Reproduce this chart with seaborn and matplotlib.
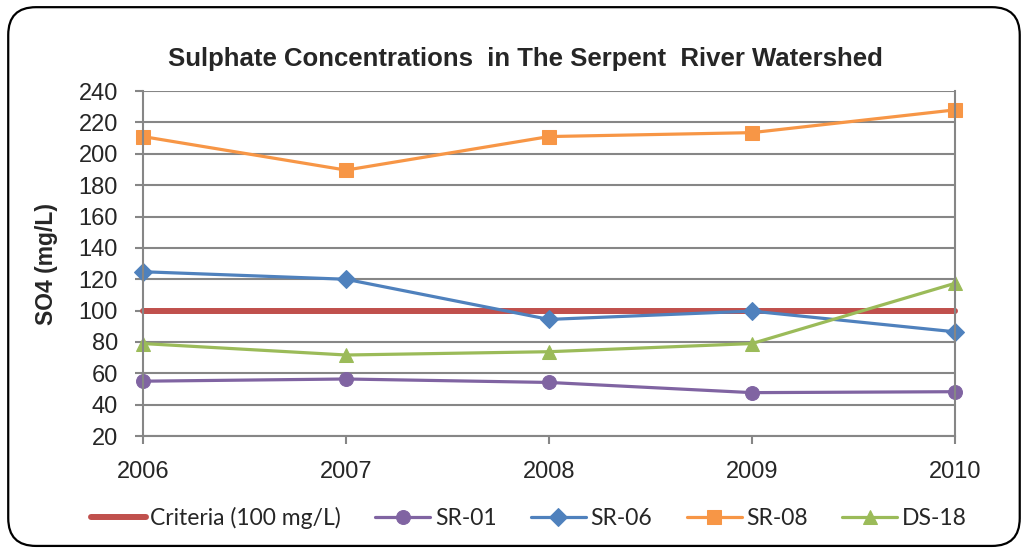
import numpy as np
import pandas as pd
import matplotlib
matplotlib.use("Agg")
import matplotlib.pyplot as plt
import seaborn as sns
from matplotlib.patches import FancyBboxPatch

years = [2006, 2007, 2008, 2009, 2010]
criteria = [100, 100, 100, 100, 100]
sr01 = [55, 56.4, 54.2, 47.7, 48.3]
sr06 = [124.8, 120, 94.4, 99.7, 86.5]
sr08 = [211, 189.6, 211, 213.5, 228]
ds18 = [79, 71.7, 73.8, 79, 117.4]

series_names = ["Criteria (100 mg/L)", "SR-01", "SR-06", "SR-08", "DS-18"]
series_vals = [criteria, sr01, sr06, sr08, ds18]
colors = ["#C0504D", "#8064A2", "#4F81BD", "#F79646", "#9BBB59"]
markers = [None, "o", "D", "s", "^"]
msizes = [0, 10, 9, 10, 10.5]
widths = [4.3, 2.3, 2.3, 2.3, 2.3]

sns.set_style("white")
plt.rcParams["font.family"] = ["Liberation Sans", "DejaVu Sans"]

fig = plt.figure(figsize=(10.29, 5.52), dpi=100)
ax = fig.add_axes([0.139, 0.21, 0.789, 0.625])

# rounded chart border
border = FancyBboxPatch((0.008, 0.011), 0.983, 0.976,
                        boxstyle="round,pad=0,rounding_size=0.027",
                        transform=fig.transFigure, fill=False,
                        edgecolor="black", linewidth=1.6, mutation_aspect=1.86)
fig.patches.append(border)

for name, vals, c, m, ms, lw in zip(series_names, series_vals, colors, markers, msizes, widths):
    df = pd.DataFrame({"year": years, "value": vals})
    sns.lineplot(data=df, x="year", y="value", ax=ax, color=c, linewidth=lw,
                 marker=m, markersize=ms, markeredgecolor=c, label=name)
for ln in ax.lines:
    ln.set_clip_on(False)

ax.set_xlim(2006, 2010)
ax.set_ylim(20, 240)
ax.set_xticks(years)
ax.set_xticklabels([str(y) for y in years])
ax.set_yticks(np.arange(20, 241, 20))
ax.yaxis.grid(True, color="#868686", linewidth=1.5)
ax.set_axisbelow(True)
for side in ["left", "right", "bottom", "top"]:
    ax.spines[side].set_color("#868686")
    ax.spines[side].set_linewidth(1.5)
ax.spines["top"].set_visible(False)
ax.tick_params(axis="both", which="both", direction="out", length=6, width=1.5,
               color="#868686", labelsize=17)
ax.tick_params(axis="y", left=True, pad=12)
ax.tick_params(axis="x", bottom=True, pad=12)

ax.set_xlabel("")
ax.set_ylabel("SO4 (mg/L)", fontsize=16.5, fontweight="bold")
ax.yaxis.set_label_coords(-0.105, 0.5)
fig.text(0.511, 0.893, "Sulphate Concentrations  in The Serpent  River Watershed",
         ha="center", va="center", fontsize=18.5, fontweight="bold")

leg = ax.legend(loc="center", bbox_to_anchor=(0.475, -0.237), ncol=5, frameon=False,
                prop={"family": ["Lato", "DejaVu Sans"], "size": 16.5},
                handlelength=2.4, columnspacing=1.5, handletextpad=0.2)

fig.savefig("out.png", dpi=100)
